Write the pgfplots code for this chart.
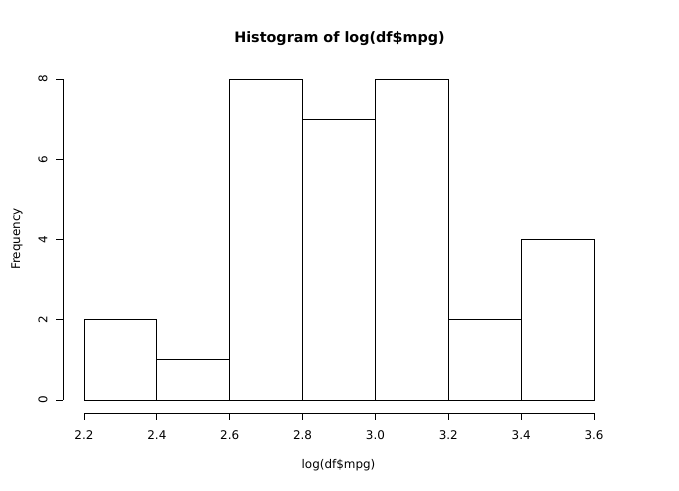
\documentclass[border=0pt]{standalone}
\usepackage{pgfplots}
\pgfplotsset{compat=1.18}
\usepackage{fontspec}
\setmainfont{DejaVu Sans}
\begin{document}
\begin{tikzpicture}[x=1bp,y=1bp]
\path[use as bounding box] (0,0) rectangle (679,491);
\begin{axis}[
  at={(84bp,91bp)}, anchor=south west,
  scale only axis, width=510bp, height=321bp,
  xmin=2.2, xmax=3.6, ymin=0, ymax=8,
  axis lines=left, axis line style={-, line width=0.8bp, black},
  axis x line shift=13bp, axis y line shift=21bp,
  tick align=outside, major tick length=7bp,
  tick style={black, line width=0.8bp},
  xtick={2.2,2.4,2.6,2.8,3.0,3.2,3.4,3.6}, ytick={0,2,4,6,8},
  xticklabels={2.2,2.4,2.6,2.8,3.0,3.2,3.4,3.6},
  yticklabels={0,2,4,6,8},
  tick label style={font=\fontsize{12}{14}\selectfont},
  xticklabel style={anchor=base, yshift=-19.3bp},
  yticklabel style={anchor=base, xshift=-8.7bp, rotate=90},
  clip=false,
]
\addplot[ybar interval, fill=white, draw=black, line width=0.8bp] coordinates {(2.2,2)(2.4,1)(2.6,8)(2.8,7)(3.0,8)(3.2,2)(3.4,4)(3.6,4)};
\end{axis}
\node[anchor=base, font=\fontsize{14.4}{17}\bfseries\selectfont] at (339.5,448.3) {Histogram of log(df\$mpg)};
\node[anchor=base, font=\fontsize{12}{14}\selectfont] at (338.5,22) {log(df\$mpg)};
\node[anchor=base, rotate=90, font=\fontsize{12}{14}\selectfont] at (20,252) {Frequency};
\end{tikzpicture}
\end{document}
